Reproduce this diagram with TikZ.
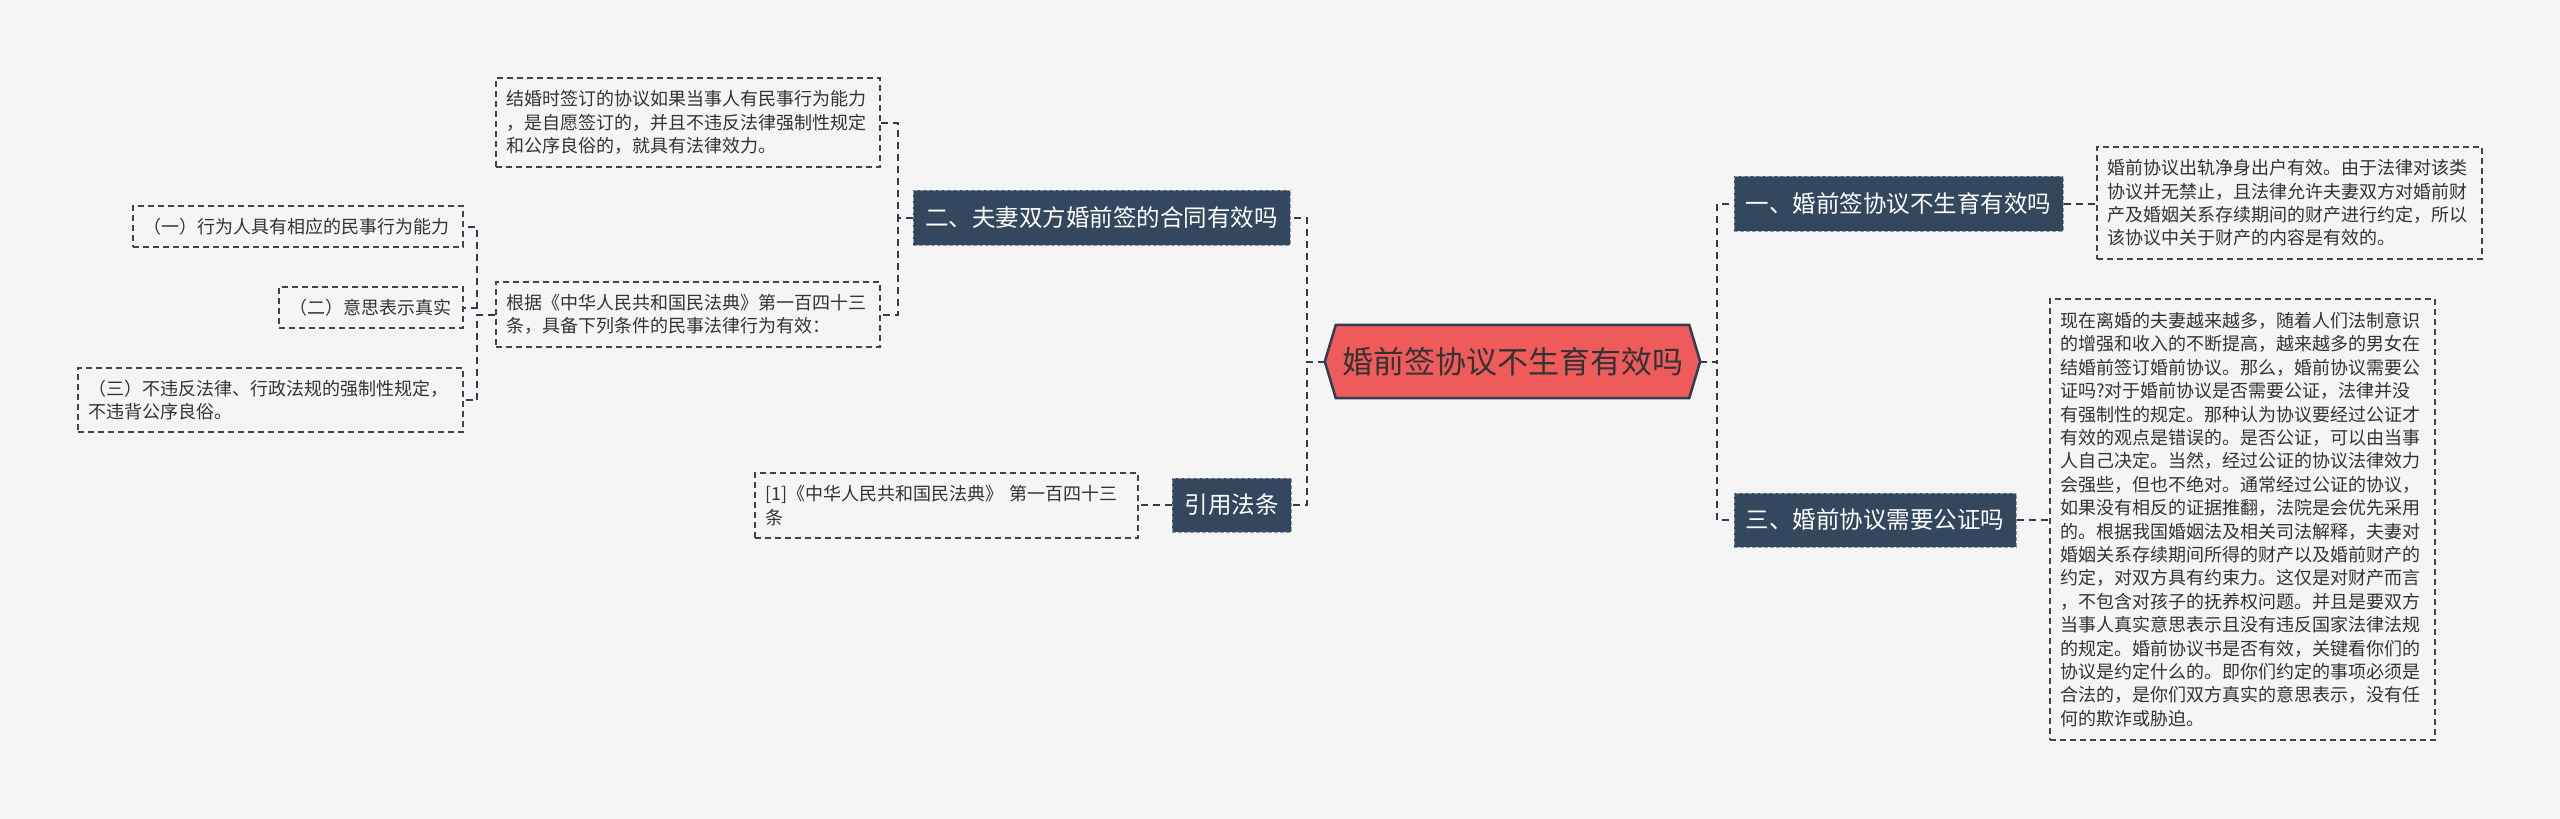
\documentclass[tikz,border=0pt]{standalone}
\usepackage{fontspec}
\setmainfont{Noto Sans CJK SC}
\usetikzlibrary{calc}
\definecolor{bgc}{HTML}{F5F5F5}
\definecolor{darkc}{HTML}{33475E}
\definecolor{linec}{HTML}{2C3E50}
\definecolor{redc}{HTML}{EF5A5A}
\definecolor{txtc}{HTML}{333333}
\definecolor{boxline}{HTML}{444444}
\pgfdeclarelayer{bg}
\pgfsetlayers{bg,main}
\tikzset{
  every node/.style={inner sep=0pt},
  topic/.style={fill=darkc, draw=white!45!darkc, dash pattern=on 4pt off 2pt, line width=1pt,
    text=white, font=\fontsize{23.5}{28}\selectfont, align=center, minimum height=55pt},
  infobox/.style={draw=boxline, dash pattern=on 6pt off 4pt, line width=1.4pt, text=txtc,
    font=\fontsize{18}{23.4}\selectfont, align=left, inner xsep=10pt, inner ysep=4pt},
  conn/.style={draw=linec, line width=2pt, dash pattern=on 7pt off 5pt},
}
\begin{document}
\begin{tikzpicture}[x=1pt,y=-1pt]
\useasboundingbox (0,0) rectangle (2560,819);

% central node
\node[minimum width=375pt, minimum height=73pt, text=txtc, font=\fontsize{31}{36}\selectfont] (c) at (1512.5,361.5) {婚前签协议不生育有效吗};
\begin{pgfonlayer}{bg}
\fill[bgc] (0,0) rectangle (2560,819);
\draw[fill=redc, draw=linec, line width=2.5pt, line join=miter]
  ([xshift=11pt]c.north west) -- ([xshift=-11pt]c.north east) -- (c.east)
  -- ([xshift=-11pt]c.south east) -- ([xshift=11pt]c.south west) -- (c.west) -- cycle;
\end{pgfonlayer}

% main topics
\node[topic, minimum width=377pt] (t2) at (1101.5,217.5) {二、夫妻双方婚前签的合同有效吗};
\node[topic, minimum width=119pt, minimum height=54pt] (tref) at (1231.5,505) {引用法条};
\node[topic, minimum width=329pt] (t1) at (1898.5,203.5) {一、婚前签协议不生育有效吗};
\node[topic, minimum width=282pt, minimum height=54pt] (t3) at (1875,520) {三、婚前协议需要公证吗};

% left boxes
\node[infobox, text width=364pt, minimum height=89pt] (bA) at (688,122.5) {结婚时签订的协议如果当事人有民事行为能力\\，是自愿签订的，并且不违反法律强制性规定\\和公序良俗的，就具有法律效力。};
\node[infobox, text width=364pt, minimum height=65pt] (bB) at (688,314.5) {根据《中华人民共和国民法典》第一百四十三\\条，具备下列条件的民事法律行为有效：};
\node[infobox, text width=310pt, minimum height=41pt] (p1) at (298,226.5) {（一）行为人具有相应的民事行为能力};
\node[infobox, text width=164pt, minimum height=41pt] (p2) at (371,307.5) {（二）意思表示真实};
\node[infobox, text width=365pt, minimum height=64pt] (p3) at (270.5,400) {（三）不违反法律、行政法规的强制性规定，\\不违背公序良俗。};
\node[infobox, text width=363pt, minimum height=65pt] (bref) at (946.5,505.5) {[1]《中华人民共和国民法典》 第一百四十三\\条};

% right boxes
\node[infobox, text width=365pt, minimum height=112pt] (b1) at (2289.5,203) {婚前协议出轨净身出户有效。由于法律对该类\\协议并无禁止，且法律允许夫妻双方对婚前财\\产及婚姻关系存续期间的财产进行约定，所以\\该协议中关于财产的内容是有效的。};
\node[infobox, text width=365pt, minimum height=441pt] (b3) at (2242.5,519.5) {现在离婚的夫妻越来越多，随着人们法制意识\\的增强和收入的不断提高，越来越多的男女在\\结婚前签订婚前协议。那么，婚前协议需要公\\证吗?对于婚前协议是否需要公证，法律并没\\有强制性的规定。那种认为协议要经过公证才\\有效的观点是错误的。是否公证，可以由当事\\人自己决定。当然，经过公证的协议法律效力\\会强些，但也不绝对。通常经过公证的协议，\\如果没有相反的证据推翻，法院是会优先采用\\的。根据我国婚姻法及相关司法解释，夫妻对\\婚姻关系存续期间所得的财产以及婚前财产的\\约定，对双方具有约束力。这仅是对财产而言\\，不包含对孩子的抚养权问题。并且是要双方\\当事人真实意思表示且没有违反国家法律法规\\的规定。婚前协议书是否有效，关键看你们的\\协议是约定什么的。即你们约定的事项必须是\\合法的，是你们双方真实的意思表示，没有任\\何的欺诈或胁迫。};

% connectors
\draw[conn] (c.west) -- ++(-18,0) |- (t2.east);
\draw[conn] (c.west) -- ++(-18,0) |- (tref.east);
\draw[conn] (c.east) -- ++(17,0) |- (t1.west);
\draw[conn] (c.east) -- ++(17,0) |- (t3.west);
\draw[conn] (t2.west) -- ++(-15,0) |- (bA.east);
\draw[conn] (t2.west) -- ++(-15,0) |- (bB.east);
\draw[conn] (bB.west) -- ++(-18,0) |- (p1.east);
\draw[conn] (bB.west) -- ++(-18,0) |- (p2.east);
\draw[conn] (bB.west) -- ++(-18,0) |- (p3.east);
\draw[conn] (tref.west) -- (tref.west -| bref.east);
\draw[conn] (t1.east) -- (t1.east -| b1.west);
\draw[conn] (t3.east) -- (t3.east -| b3.west);
\end{tikzpicture}
\end{document}
